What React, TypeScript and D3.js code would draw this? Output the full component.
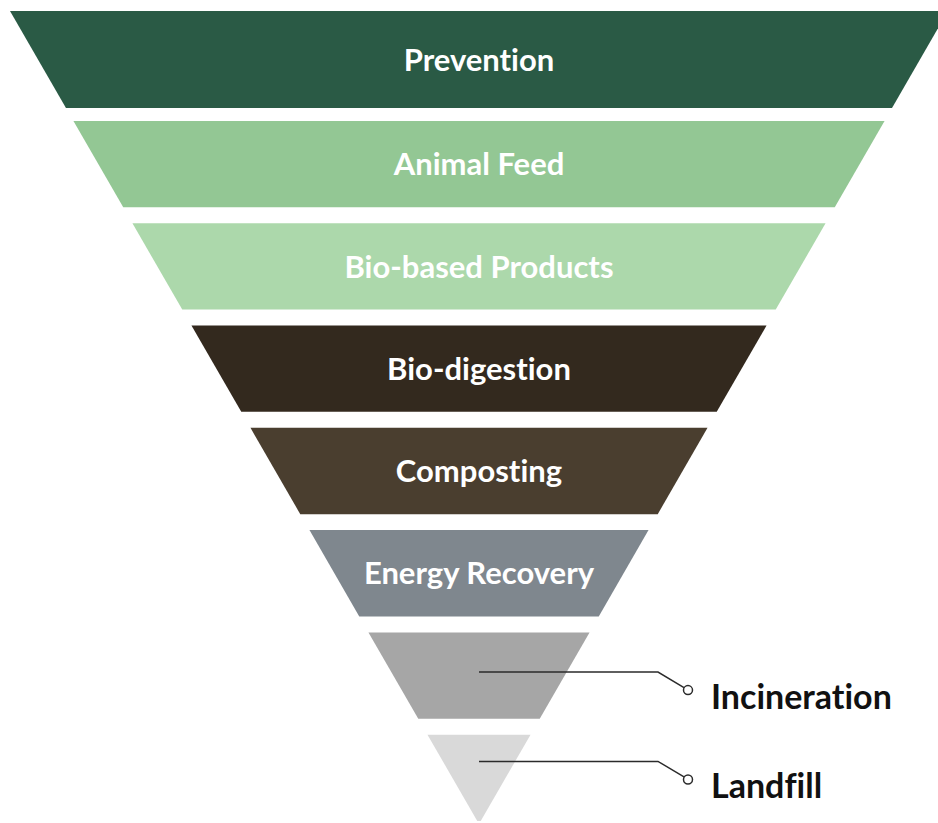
import React, { useEffect, useRef } from "react";
import * as d3 from "d3";

// waste hierarchy levels, top (most preferred) to bottom
const levels = [
  "Prevention",
  "Animal Feed",
  "Bio-based Products",
  "Bio-digestion",
  "Composting",
  "Energy Recovery",
  "Incineration",
  "Landfill",
];
const colors = [
  "#2a5a45",
  "#93c794",
  "#acd8ab",
  "#33291e",
  "#4a3e2f",
  "#7f878e",
  "#a6a6a6",
  "#d9d9d9",
];
// levels whose label sits outside the funnel, with a leader line
const outsideLabels = ["Incineration", "Landfill"];
const leaderAt = [0.46, 0.31];

const W = 938;
const H = 823;

export default function App() {
  const ref = useRef<SVGSVGElement>(null);

  useEffect(() => {
    const svg = d3.select(ref.current);
    svg.selectAll("*").remove();

    const cx = 479;
    const top = 11;
    const apex = 824;

    const y = d3.scaleBand<string>()
      .domain(levels)
      .range([18.7, 821])
      .paddingInner(0.156)
      .paddingOuter(0);

    // half width of the funnel as a function of y
    const half = d3.scaleLinear().domain([top, apex]).range([469, 0]);

    const g = svg.append("g");

    levels.forEach((name, i) => {
      // first band is a little taller than the rest
      const y0 = i === 0 ? top : y(name)!;
      const y1 = Math.min(y(name)! + y.bandwidth() + (i === 0 ? 3 : 0), apex);
      const pts: [number, number][] = [
        [cx - half(y0), y0],
        [cx + half(y0), y0],
        [cx + half(y1), y1],
        [cx - half(y1), y1],
      ];
      g.append("path")
        .attr("d", d3.line()(pts) + "Z")
        .attr("fill", colors[i]);

      const oi = outsideLabels.indexOf(name);
      if (oi < 0) {
        g.append("text")
          .attr("x", cx)
          .attr("y", (y0 + y1) / 2)
          .attr("dy", "0.36em")
          .attr("text-anchor", "middle")
          .attr("fill", "#fff")
          .style("font-family", "Lato, 'Noto Sans', sans-serif")
          .style("font-weight", 700)
          .style("font-size", "31px")
          .style("font-variant-ligatures", "none")
          .text(name);
      } else {
        const ly = y(name)! + y.bandwidth() * leaderAt[oi];
        const elbow = 658;
        const dotX = 688;
        const dotY = ly + 18;
        g.append("path")
          .attr("d", d3.line()([[cx, ly], [elbow, ly], [dotX - 4, dotY - 2.5]]))
          .attr("fill", "none")
          .attr("stroke", "#2b2b2b")
          .attr("stroke-width", 1.5);
        g.append("circle")
          .attr("cx", dotX)
          .attr("cy", dotY)
          .attr("r", 4.5)
          .attr("fill", "#fff")
          .attr("stroke", "#2b2b2b")
          .attr("stroke-width", 1.5);
        g.append("text")
          .attr("x", 711)
          .attr("y", dotY + 19)
          .attr("fill", "#111")
          .style("font-family", "Lato, 'Noto Sans', sans-serif")
          .style("font-weight", 700)
          .style("font-size", "34px")
          .style("font-variant-ligatures", "none")
          .text(name);
      }
    });
  }, []);

  return (
    <div style={{ position: "absolute", left: 0, top: 0 }}>
      <svg ref={ref} width={W} height={H} style={{ display: "block" }} />
    </div>
  );
}
